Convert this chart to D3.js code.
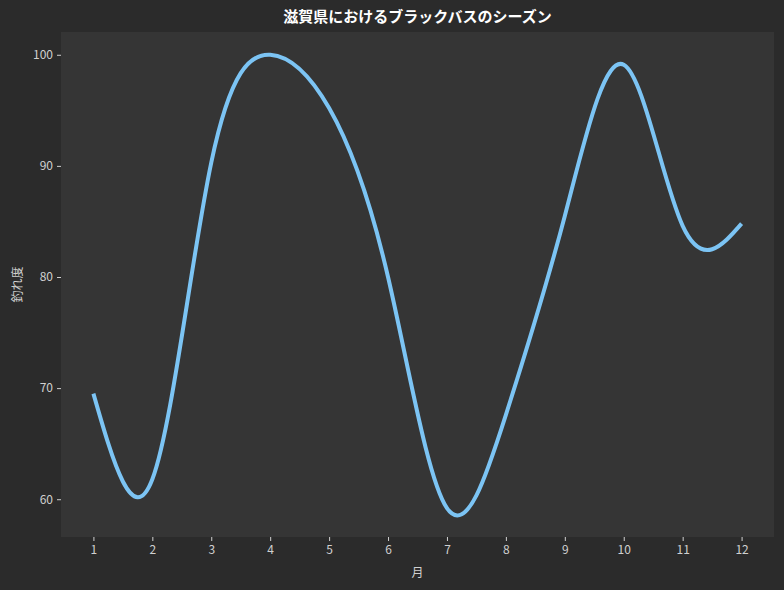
<!DOCTYPE html>
<html>
<head>
<meta charset="utf-8">
<script src="https://cdn.jsdelivr.net/npm/d3@7"></script>
<style>
  body { margin: 0; background: #2b2b2b; }
  svg { display: block; }
</style>
</head>
<body>
<div id="chart"></div>
<script>
// monthly values
const months = [1, 2, 3, 4, 5, 6, 7, 8, 9, 10, 11, 12];
const catchRate = [69.5, 61.8, 90.3, 100, 95.2, 80, 59.2, 67.6, 85.5, 99.1, 84.6, 84.8];
const yTicks = [60, 70, 80, 90, 100];

const size = { width: 784, height: 590 };
const margin = { left: 61, right: 10, top: 32, bottom: 53 };
const font = "'Noto Sans CJK JP', 'Noto Sans', sans-serif";

const svg = d3.select("#chart")
  .append("svg")
  .attr("width", size.width)
  .attr("height", size.height);

svg.append("rect")
  .attr("width", size.width)
  .attr("height", size.height)
  .attr("fill", "#2b2b2b");

const x = d3.scaleLinear()
  .domain([0.45, 12.55])
  .range([margin.left, size.width - margin.right]);

const y = d3.scaleLinear()
  .domain([56.6, 102.05])
  .range([size.height - margin.bottom, margin.top]);

// plot area
svg.append("rect")
  .attr("x", margin.left)
  .attr("y", margin.top)
  .attr("width", size.width - margin.left - margin.right)
  .attr("height", size.height - margin.top - margin.bottom)
  .attr("fill", "#353535");

const data = months.map((m, i) => ({ month: m, value: catchRate[i] }));

const line = d3.line()
  .x((d) => x(d.month))
  .y((d) => y(d.value))
  .curve(d3.curveNatural);

svg.append("path")
  .datum(data)
  .attr("fill", "none")
  .attr("stroke", "#7cc4f4")
  .attr("stroke-width", 4)
  .attr("stroke-linecap", "butt")
  .attr("d", line);

// axes
const xAxis = svg.append("g")
  .attr("transform", `translate(0, ${size.height - margin.bottom})`)
  .call(d3.axisBottom(x).tickValues(months).tickSize(4).tickPadding(4).tickFormat(d3.format("d")));

const yAxis = svg.append("g")
  .attr("transform", `translate(${margin.left}, 0)`)
  .call(d3.axisLeft(y).tickValues(yTicks).tickSize(4).tickPadding(4));

[xAxis, yAxis].forEach((g) => {
  g.select(".domain").remove();
  g.selectAll(".tick line").attr("stroke", "#d0d0d0").attr("stroke-width", 1);
  g.selectAll(".tick text")
    .attr("fill", "#d0d0d0")
    .style("font-family", font)
    .style("font-size", "12px");
});

// labels
svg.append("text")
  .attr("x", (margin.left + size.width - margin.right) / 2)
  .attr("y", 577)
  .attr("text-anchor", "middle")
  .attr("fill", "#d0d0d0")
  .style("font-family", font)
  .style("font-size", "12px")
  .text("月");

svg.append("text")
  .attr("transform", `translate(22, ${(margin.top + size.height - margin.bottom) / 2}) rotate(-90)`)
  .attr("text-anchor", "middle")
  .attr("fill", "#d0d0d0")
  .style("font-family", font)
  .style("font-size", "12px")
  .text("釣れ度");

svg.append("text")
  .attr("x", (margin.left + size.width - margin.right) / 2)
  .attr("y", 22)
  .attr("text-anchor", "middle")
  .attr("fill", "#ffffff")
  .style("font-family", font)
  .style("font-size", "15px")
  .style("font-weight", "bold")
  .text("滋賀県におけるブラックバスのシーズン");
</script>
</body>
</html>
